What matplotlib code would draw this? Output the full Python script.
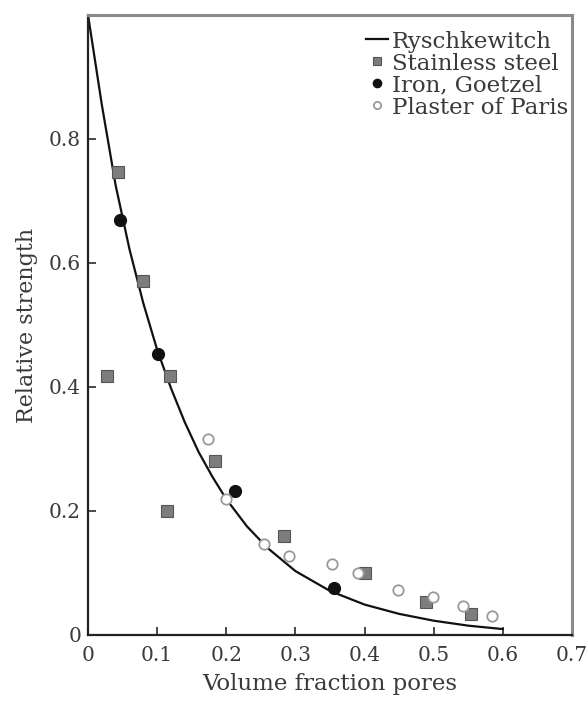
import matplotlib
matplotlib.use("Agg")
import matplotlib.pyplot as plt

# Ryschkewitch curve
curve_x = [0.0, 0.02, 0.04, 0.06, 0.08, 0.10, 0.12, 0.14, 0.16, 0.18, 0.20,
           0.23, 0.26, 0.30, 0.35, 0.40, 0.45, 0.50, 0.55, 0.60]
curve_y = [1.0, 0.855, 0.725, 0.622, 0.535, 0.46, 0.398, 0.343, 0.295, 0.255, 0.219,
           0.175, 0.14, 0.103, 0.071, 0.049, 0.034, 0.023, 0.015, 0.0095]

steel_x = [0.027, 0.043, 0.079, 0.114, 0.118, 0.183, 0.283, 0.40, 0.489, 0.554]
steel_y = [0.418, 0.747, 0.571, 0.200, 0.418, 0.280, 0.159, 0.100, 0.053, 0.034]

iron_x = [0.046, 0.101, 0.212, 0.356]
iron_y = [0.670, 0.454, 0.233, 0.076]

plaster_x = [0.173, 0.200, 0.255, 0.291, 0.353, 0.390, 0.449, 0.499, 0.542, 0.584]
plaster_y = [0.316, 0.219, 0.147, 0.128, 0.114, 0.100, 0.073, 0.061, 0.047, 0.030]

x_ticks = [0, 0.1, 0.2, 0.3, 0.4, 0.5, 0.6, 0.7]
x_labels = ["0", "0.1", "0.2", "0.3", "0.4", "0.5", "0.6", "0.7"]
y_ticks = [0, 0.2, 0.4, 0.6, 0.8]
y_labels = ["0", "0.2", "0.4", "0.6", "0.8"]

plt.rcParams['font.family'] = ['DejaVu Serif']

fig = plt.figure(figsize=(5.88, 7.01), dpi=100)
ax = fig.add_axes([0.1497, 0.0942, 0.8231, 0.8844])

txt = '#3a3a3a'
ax.plot(curve_x, curve_y, color='#111111', lw=1.6, label='Ryschkewitch', zorder=2)
ax.plot(steel_x, steel_y, ls='none', marker='s', ms=8.5, mfc='#7d7d7d', mec='#555555',
        mew=0.8, label='Stainless steel', zorder=3)
ax.plot(iron_x, iron_y, ls='none', marker='o', ms=8.5, mfc='#111111', mec='#111111',
        label='Iron, Goetzel', zorder=4)
ax.plot(plaster_x, plaster_y, ls='none', marker='o', ms=7.5, mfc='white', mec='#9a9a9a',
        mew=1.3, label='Plaster of Paris', zorder=4)

ax.set_xlim(0, 0.7)
ax.set_ylim(0, 1.0)
ax.set_xticks(x_ticks)
ax.set_xticklabels(x_labels)
ax.set_yticks(y_ticks)
ax.set_yticklabels(y_labels)
ax.tick_params(direction='in', length=6, width=1.3, labelsize=14.5, colors=txt, pad=5)
ax.tick_params(axis='x', pad=8)

for s in ['left', 'bottom']:
    ax.spines[s].set_color('#222222')
    ax.spines[s].set_linewidth(1.6)
for s in ['top', 'right']:
    ax.spines[s].set_color('#8a8a8a')
    ax.spines[s].set_linewidth(2.2)

ax.set_xlabel('Volume fraction pores', fontsize=16.5, color=txt, labelpad=6)
ax.set_ylabel('Relative strength', fontsize=16, color=txt, labelpad=8)

leg = ax.legend(loc='upper right', bbox_to_anchor=(0.992, 0.975), frameon=False,
                fontsize=16.5, handlelength=1.0, handletextpad=0.15,
                labelspacing=0.0, borderaxespad=0.0, borderpad=0.0,
                markerscale=0.7)
for t in leg.get_texts():
    t.set_color(txt)

fig.savefig('out.png', dpi=100)
